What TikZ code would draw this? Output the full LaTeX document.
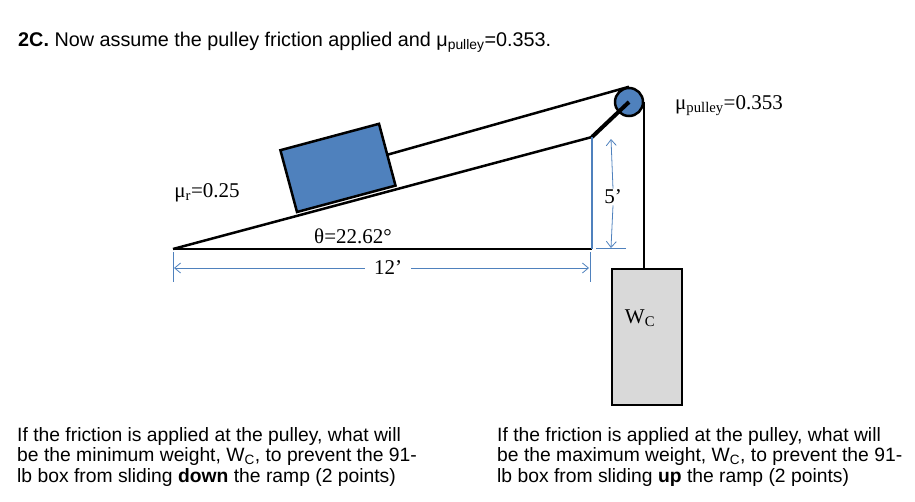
\documentclass[tikz,border=0pt]{standalone}
\usepackage{fontspec}
\setmainfont{Liberation Sans}
\newfontfamily\tnr{Liberation Serif}
\usetikzlibrary{arrows.meta}
\begin{document}
\begin{tikzpicture}[x=1pt,y=-1pt,
  dim/.style={draw={rgb,255:red,79;green,129;blue,189},line width=0.8pt},
  lab/.style={font=\tnr\fontsize{21}{22}\selectfont,inner sep=1pt},
  para/.style={font=\fontsize{19.3}{20.5}\selectfont,align=left,anchor=north west,inner sep=0pt}]
\useasboundingbox (0,0) rectangle (915,501);
\node[anchor=west,font=\fontsize{19.8}{20}\selectfont,inner sep=0pt] (title) at (18,42) {\textbf{2C.} Now assume the pulley friction applied and μ\textsubscript{pulley}=0.353.};
\coordinate (A) at (173,249);
\coordinate (B) at (592,249);
\coordinate (C) at (592,137);
\draw[line width=2.5pt] (A) -- (B);
\coordinate (bl) at (297,212); \coordinate (br) at (395.5,185.6);
\coordinate (tr) at (379,123.8); \coordinate (tl) at (280.4,150.2);
\coordinate (rm) at (387.5,154.7);
\filldraw[line width=2.5pt,fill={rgb,255:red,79;green,129;blue,189}] (bl) -- (br) -- (tr) -- (tl) -- cycle;
\draw[line width=2.5pt] (A) -- (C);
\node[circle,draw=black,line width=2.5pt,fill={rgb,255:red,79;green,129;blue,189},minimum size=28pt,inner sep=0pt] (pul) at (629,102) {};
\draw[line width=2.5pt] (rm) -- (pul.north);
\draw[line width=4pt] (C) -- (pul.center);
\node[draw=black,line width=1.5pt,fill={rgb,255:red,217;green,217;blue,217},minimum width=70pt,minimum height=136pt,anchor=north] (wc) at (647,268) {};
\draw[line width=2pt] (pul.east) -- (wc.north -| pul.east);
\node[lab] (wl) at (640,318) {W\textsubscript{C}};
\draw[dim,line width=2pt] (C) -- (B);
\coordinate (t1) at (611,139); \coordinate (t2) at (611,248);
\node[lab] (five) at (613,197) {5’};
\draw[dim,-{Straight Barb[length=6pt,width=10pt]}] (five.north) -- (t1);
\draw[dim,-{Straight Barb[length=6pt,width=10pt]}] (five.south) -- (t2);
\draw[dim] (596,248) -- (626,248);
\draw[dim] (173,252) -- (173,282);
\draw[dim] (590,252) -- (590,282);
\node[lab] (twelve) at (388,268) {12’};
\draw[dim,-{Straight Barb[length=6pt,width=10pt]}] (twelve.west) ++(-8,0) -- (174,268);
\draw[dim,-{Straight Barb[length=6pt,width=10pt]}] (twelve.east) ++(8,0) -- (589,268);
\node[lab] (theta) at (353,236) {θ=22.62°};
\node[lab] (mur) at (207,193) {μ\textsubscript{r}=0.25};
\node[lab] (mup) at (729,106) {μ\textsubscript{pulley}=0.353};
\node[para] (q1) at (17,427) {If the friction is applied at the pulley, what will\\be the minimum weight, W\textsubscript{C}, to prevent the 91-\\lb box from sliding \textbf{down} the ramp (2 points)};
\node[para] (q2) at (497,427) {If the friction is applied at the pulley, what will\\be the maximum weight, W\textsubscript{C}, to prevent the 91-\\lb box from sliding \textbf{up} the ramp (2 points)};
\end{tikzpicture}
\end{document}
